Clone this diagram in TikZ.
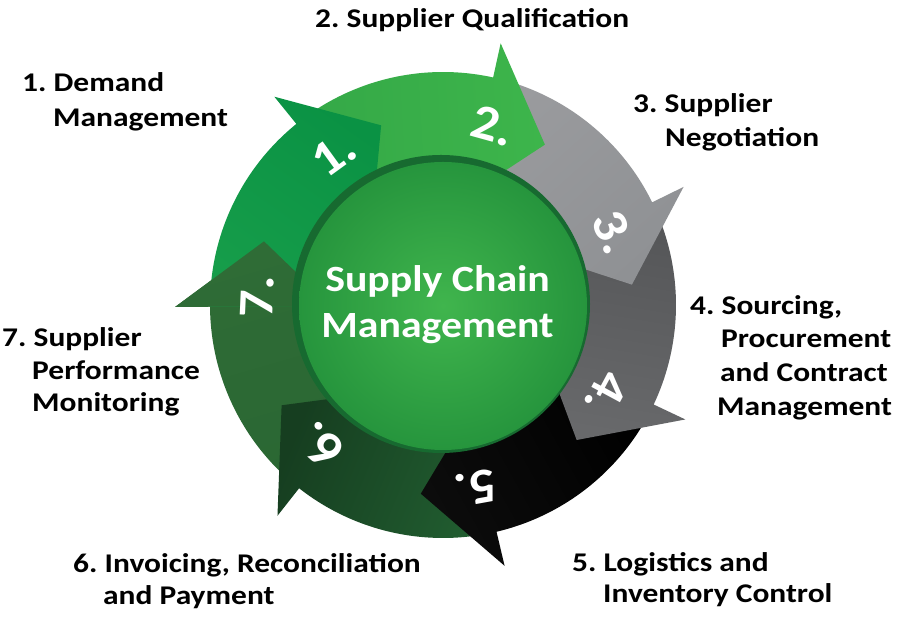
\documentclass[tikz,border=0pt]{standalone}
\usepackage{fontspec}
\setmainfont{Carlito}
\newfontfamily\lblfont[FakeStretch=1.165]{Carlito}
\newfontfamily\ctrfont[FakeStretch=1.13]{Carlito}
\newfontfamily\numfont[FakeStretch=1.08]{Carlito}
\definecolor{s1a}{HTML}{169D4A}\definecolor{s1b}{HTML}{0A9244}
\definecolor{s2a}{HTML}{34A847}\definecolor{s2b}{HTML}{3DB54B}
\definecolor{s3a}{HTML}{9A9B9E}\definecolor{s3b}{HTML}{8F9194}
\definecolor{s4a}{HTML}{545557}\definecolor{s4b}{HTML}{68696B}
\definecolor{s5a}{HTML}{000000}\definecolor{s5b}{HTML}{0C0C0C}
\definecolor{s6a}{HTML}{215D30}\definecolor{s6b}{HTML}{163E20}
\definecolor{s7a}{HTML}{2A6733}\definecolor{s7b}{HTML}{2F6C36}
\definecolor{rimc}{HTML}{176A30}
\definecolor{inc}{HTML}{40B54D}
\definecolor{outc}{HTML}{26953D}
\begin{document}
\frenchspacing
\begin{tikzpicture}[x=1pt,y=1pt,
  lbl/.style={font=\lblfont\fontsize{27}{32}\selectfont\bfseries, text=black, anchor=base west, inner sep=0pt},
  num/.style={font=\numfont\fontsize{50}{50}\selectfont\bfseries, text=white, inner sep=0pt},
  ctr/.style={font=\ctrfont\fontsize{37}{46}\selectfont\bfseries, align=center, inner sep=0pt}]
\useasboundingbox (0,0) rectangle (900,620);
\fill[white] (0,0) rectangle (900,620);
\begin{scope}[shift={(443,315)}]
\foreach \k/\ca/\cb in {7/s7a/s7b,6/s6a/s6b,5/s5a/s5b,4/s4a/s4b,3/s3a/s3b,2/s2a/s2b,1/s1a/s1b}{
  \pgfmathsetmacro\te{129-51.4286*(\k-1)}
  \pgfmathsetmacro\ts{\te+51.4286}
  \pgfmathsetmacro\tp{\te-20}
  \pgfmathsetmacro\sa{(\ts+\tp)/2-180}
  \path[bottom color=\ca, top color=\cb, shading angle=\sa]
    (\ts:233) arc[start angle=\ts, end angle=\te, radius=233]
    -- (\te:268) -- (\tp:190) -- (\te:112) -- (\te:140)
    arc[start angle=\te, end angle=\ts, radius=140] -- cycle;
}
% head 7 on top of segment 1
\begin{scope}
  \clip (0,0) -- (-179.57:300) arc[start angle=-179.57, end angle=-209.57, radius=300] -- cycle;
  \pgfmathsetmacro\te{-179.5716}
  \pgfmathsetmacro\ts{\te+51.4286}
  \pgfmathsetmacro\tp{\te-20}
  \pgfmathsetmacro\sa{(\ts+\tp)/2-180}
  \path[bottom color=s7a, top color=s7b, shading angle=\sa]
    (\ts:233) arc[start angle=\ts, end angle=\te, radius=233]
    -- (\te:268) -- (\tp:190) -- (\te:112) -- (\te:140)
    arc[start angle=\te, end angle=\ts, radius=140] -- cycle;
\end{scope}
\foreach \k in {1,...,7}{
  \pgfmathsetmacro\te{129-51.4286*(\k-1)}
  \node[num, rotate=\te-93] (n\k) at (\te-3:186) {\k.};
}
\end{scope}
% inner circle
\fill[rimc] (441,316) circle (149);
\shade[inner color=inc, outer color=outc] (443,314) circle (144);
\node[ctr, text=white] (center) at (437.5,315) {Supply Chain\\Management};
% labels
\node[lbl] (l1a) at (22,528) {1. Demand};
\node[lbl] (l1b) at (53,493) {Management};
\node[lbl] (l2) at (315,592) {2. Supplier Qualification};
\node[lbl] (l3a) at (633,507) {3. Supplier};
\node[lbl] (l3b) at (665,473) {Negotiation};
\node[lbl] (l4a) at (690,305) {4. Sourcing,};
\node[lbl] (l4b) at (721,272) {Procurement};
\node[lbl] (l4c) at (720,238) {and Contract};
\node[lbl] (l4d) at (717,204) {Management};
\node[lbl] (l7a) at (2,273) {7. Supplier};
\node[lbl] (l7b) at (32,240) {Performance};
\node[lbl] (l7c) at (32,208) {Monitoring};
\node[lbl] (l6a) at (73,47) {6. Invoicing, Reconciliation};
\node[lbl] (l6b) at (103,15) {and Payment};
\node[lbl] (l5a) at (572,48) {5. Logistics and};
\node[lbl] (l5b) at (603,17) {Inventory Control};
\end{tikzpicture}
\end{document}
